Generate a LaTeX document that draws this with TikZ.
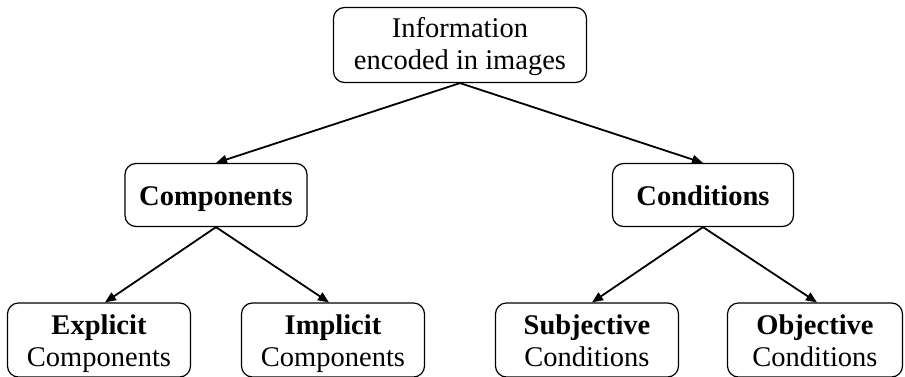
\documentclass[tikz,border=0pt]{standalone}
\usepackage{fontspec}
\setmainfont{Liberation Serif}
\usetikzlibrary{arrows.meta}
\tikzset{
    box/.style={
      draw=black, line width=1.2pt, rounded corners=11pt, align=center,
      inner sep=0pt, font=\fontsize{28.5}{31.5}\selectfont,
    },
    midbox/.style={box, minimum height=63pt, text height=24pt, text depth=4pt},
    leafbox/.style={box, minimum width=183pt, minimum height=74pt,
      text height=56pt, text depth=4pt},
    link/.style={-{Triangle[length=11pt,width=9pt]}, line width=1.8pt},
  }

\begin{document}
\begin{tikzpicture}[x=1pt, y=-1pt]
      \useasboundingbox (0,0) rectangle (905,377);

      % root
      \node[box, minimum width=253pt, minimum height=75pt, text height=53pt, text depth=4pt]
        (info) at (460,45) {Information\\encoded in images};

      % second level
      \node[midbox, minimum width=182pt] (comp) at (216,195) {\textbf{Components}};
      \node[midbox, minimum width=181pt] (cond) at (703,195) {\textbf{Conditions}};

      % leaves
      \node[leafbox] (expl) at (99,340) {\textbf{Explicit}\\Components};
      \node[leafbox] (impl) at (333,340) {\textbf{Implicit}\\Components};
      \node[leafbox] (subj) at (587,340) {\textbf{Subjective}\\Conditions};
      \node[leafbox, minimum width=175pt] (obj) at (815,340) {\textbf{Objective}\\Conditions};

      % arrows
      \draw[link] (info.south) -- (comp.north);
      \draw[link] (info.south) -- (cond.north);
      \draw[link] (comp.south) -- ([xshift=6pt]expl.north);
      \draw[link] (comp.south) -- ([xshift=-4pt]impl.north);
      \draw[link] (cond.south) -- ([xshift=5pt]subj.north);
      \draw[link] (cond.south) -- ([xshift=2pt]obj.north);
    \end{tikzpicture}
\end{document}
